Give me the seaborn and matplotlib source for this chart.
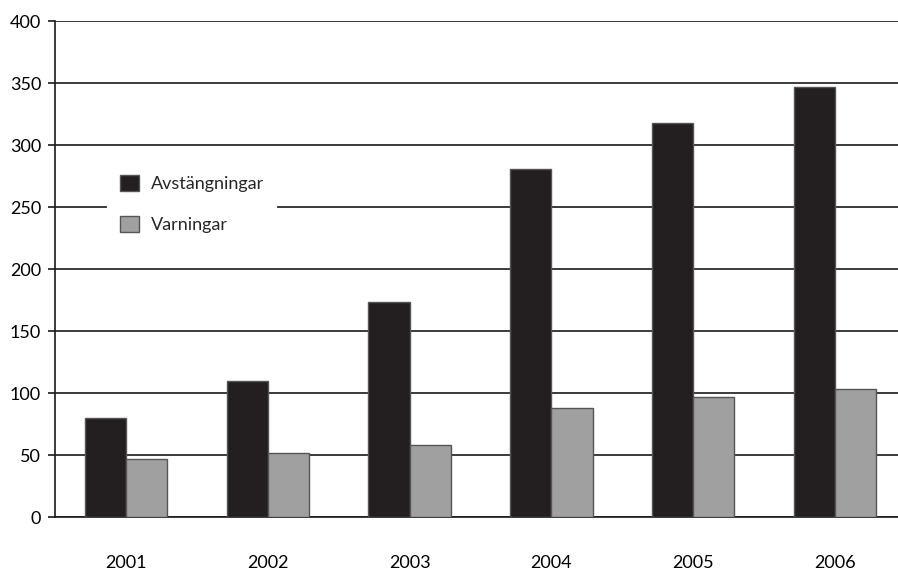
import numpy as np
import pandas as pd
import matplotlib
matplotlib.use("Agg")
import matplotlib.pyplot as plt
import seaborn as sns

years = ["2001", "2002", "2003", "2004", "2005", "2006"]
avstangningar = [80, 110, 173, 281, 318, 347]
varningar = [47, 52, 58, 88, 97, 103]
series_names = ["Avstängningar", "Varningar"]
yticks = [0, 50, 100, 150, 200, 250, 300, 350, 400]

df = pd.DataFrame({
    "year": years * 2,
    "value": avstangningar + varningar,
    "series": [series_names[0]] * len(years) + [series_names[1]] * len(years),
})

sns.set_style("white")
plt.rcParams["font.family"] = ["Lato", "DejaVu Sans"]

fig = plt.figure(figsize=(8.98, 5.72), dpi=100)
# axes runs a little past the right edge, like the original
ax = fig.add_axes([55 / 898, 55 / 572, 851 / 898, 496 / 572])

sns.barplot(data=df, x="year", y="value", hue="series",
            palette=["#231f20", "#a0a0a0"], width=0.58, gap=0,
            edgecolor="#555555", linewidth=1.0, saturation=1, ax=ax,
            zorder=3)

ax.set_ylim(0, 400)
ax.set_xlim(-0.5, 5.5)
ax.set_yticks(yticks)
ax.yaxis.grid(True, color="#1a1a1a", linewidth=1.2, zorder=0)
ax.set_axisbelow(True)

# ticks on the category boundaries, labels in the middle
ax.set_xticks(np.arange(len(years)) - 0.5, minor=True)
ax.tick_params(axis="x", which="major", length=0, pad=27, labelsize=13,
               colors="black")
ax.tick_params(axis="x", which="minor", length=7, width=1.2, color="#1a1a1a",
               direction="out")
ax.tick_params(axis="y", length=5, width=1.2, color="#1a1a1a",
               direction="out", pad=5, labelsize=13, colors="black",
               left=True)

for side in ["top", "right"]:
    ax.spines[side].set_visible(False)
for side in ["left", "bottom"]:
    ax.spines[side].set_color("#1a1a1a")
    ax.spines[side].set_linewidth(1.2)

ax.set_xlabel("")
ax.set_ylabel("")

leg = ax.legend(loc="upper left", bbox_to_anchor=(107 / 898, 1 - 162 / 572),
                bbox_transform=fig.transFigure, frameon=True, fancybox=False,
                framealpha=1, facecolor="white", edgecolor="none",
                fontsize=13, handlelength=1.05, handleheight=1.05,
                handletextpad=0.7, labelspacing=1.3, borderpad=0.7,
                borderaxespad=0)
for h in leg.legend_handles:
    h.set_edgecolor("#555555")

fig.savefig("out.png", dpi=100)
